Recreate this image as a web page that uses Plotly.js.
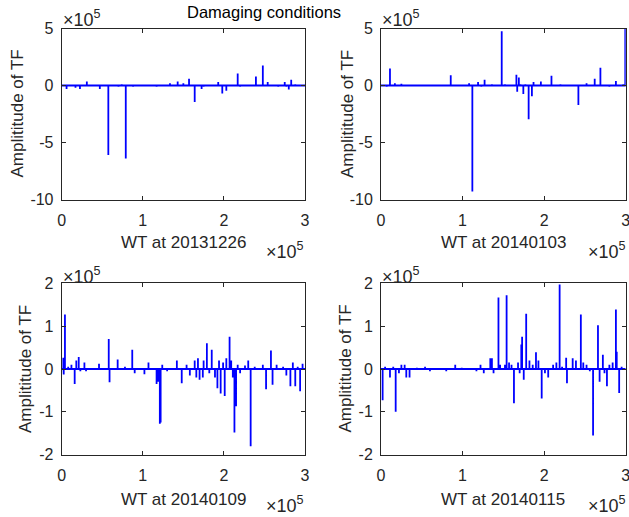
<!DOCTYPE html>
<html>
<head>
<meta charset="utf-8">
<script src="https://cdn.plot.ly/plotly-3.0.1.min.js"></script>
<style>html,body{margin:0;padding:0;background:#fff;}#chart{width:629px;height:517px;}</style>
</head>
<body>
<div id="chart"></div>
<script>
// ---- data (x in WT index, y in TF amplitude) ----
const xRange = [0, 300000];

const panelTitles = ["WT at 20131226", "WT at 20140103", "WT at 20140109", "WT at 20140115"];
const figureTitle = "Damaging conditions";
const yTitle = "Amplititude of TF";

const x1 = [6000,17000,22500,31000,40000,47000,57500,70000,74000,79000,88000,100000,110000,117000,125000,133500,143000,150000,157000,164000,172500,175000,193000,198000,203000,217000,220000,239500,248000,254000,267000,275000,277000,280000,283000,288000,295000];
const y1 = [-30000,-20000,-30000,35000,-5000,-30000,-610000,-10000,10000,-640000,-10000,5000,-5000,-10000,5000,20000,35000,20000,60000,-145000,-30000,-10000,30000,-70000,-45000,105000,-10000,80000,175000,30000,-10000,30000,-10000,-35000,50000,10000,5000];

const x2 = [7000,11000,17000,25000,35000,45000,60000,75000,85500,108000,112000,119000,123000,127000,136000,148000,152000,166000,167000,169000,171000,174500,177000,181000,185000,187000,196000,209000,220000,233000,242000,252000,262000,269000,280000,288000,297000,299500];
const y2 = [-10000,150000,20000,15000,5000,5000,5000,5000,90000,20000,-930000,30000,-10000,50000,10000,475000,10000,95000,-55000,70000,10000,-75000,10000,-295000,-95000,30000,35000,85000,10000,5000,-170000,20000,60000,155000,-10000,40000,10000,530000];

const x3 = [2000,2500,4000,8000,12000,16000,18000,21000,23000,28000,30000,46000,58000,59000,69000,78000,87000,90000,102000,107000,117000,119000,121000,122000,124000,130000,142000,148000,154000,158000,164000,166000,168000,170000,174000,175000,179000,182000,185000,189000,192000,194000,196000,199000,201000,203000,207000,209000,211000,213000,215000,217000,220000,226000,230000,233000,238000,248000,252000,258000,260000,265000,273000,277000,282000,285000,288000,291000,294000,297000];
const y3 = [26000,-13000,127000,5000,10000,-35000,20000,28000,-5000,15000,-5000,12000,70000,-31000,22000,5000,45000,-10000,-12000,15000,-35000,-30000,-128000,-125000,10000,-5000,20000,-33000,10000,-15000,20000,-20000,25000,-25000,-20000,20000,60000,-10000,45000,-20000,-45000,20000,-57000,15000,-63000,25000,75000,20000,-20000,-148000,-87000,10000,-10000,8000,20000,-180000,5000,10000,-47000,43000,-37000,10000,5000,-15000,-40000,15000,-40000,5000,-52000,12000];

const x4 = [2000,5000,11000,15000,18000,22000,25000,29000,31000,35000,44000,54000,60000,80000,91000,99000,117000,122000,126000,134000,136000,138000,144000,146000,152000,154000,157000,160000,163000,168000,170000,172000,173000,175000,178000,182000,186000,190000,193000,197000,201000,205000,211000,215000,219000,222000,227000,228000,235000,239000,245000,248000,252000,256000,260000,266000,268000,272000,274000,277000,280000,284000,288000,289000,292000,295000,299000];
const y4 = [-73000,5000,-20000,5000,-100000,-10000,10000,10000,-20000,-20000,3000,5000,-5000,-5000,10000,3000,-5000,10000,-10000,25000,25000,-10000,167000,10000,10000,172000,15000,10000,-80000,15000,-10000,57000,75000,-25000,129000,20000,10000,39000,20000,-69000,-10000,-20000,10000,15000,197000,5000,26000,-33000,25000,20000,127000,15000,10000,-5000,-155000,102000,-30000,33000,-10000,-40000,10000,15000,139000,40000,-56000,5000,2000];

const xTickVals = [0, 100000, 200000, 300000];
const xTickText = ["0", "1", "2", "3"];
const yTickValsTop = [-1000000, -500000, 0, 500000];
const yTickTextTop = ["-10", "-5", "0", "5"];
const yTickValsBot = [-200000, -100000, 0, 100000, 200000];
const yTickTextBot = ["-2", "-1", "0", "1", "2"];

// ---- build signal lines (each sample drawn as an excursion from the baseline) ----
function buildLine(xs, ys) {
  const X = [xRange[0]], Y = [0];
  for (let i = 0; i < xs.length; i++) {
    X.push(xs[i], xs[i], xs[i]);
    Y.push(0, ys[i], 0);
  }
  X.push(xRange[1]); Y.push(0);
  return {X, Y};
}

const W = 629, H = 517;
const px = v => v / W;
const py = v => 1 - v / H;

const dataSets = [[x1, y1], [x2, y2], [x3, y3], [x4, y4]];
const traces = dataSets.map((d, i) => {
  const l = buildLine(d[0], d[1]);
  return {
    x: l.X, y: l.Y, type: 'scatter', mode: 'lines',
    line: {color: '#0000ff', width: 1.8},
    xaxis: i === 0 ? 'x' : 'x' + (i + 1),
    yaxis: i === 0 ? 'y' : 'y' + (i + 1),
    hoverinfo: 'skip', showlegend: false
  };
});

const axCol = '#262626';
const fontFam = '"Liberation Sans", Arial, Helvetica, sans-serif';
function xAx(dom, anchor) {
  return {
    domain: dom, anchor: anchor, range: xRange, tickmode: 'array',
    tickvals: xTickVals, ticktext: xTickText,
    ticks: 'inside', ticklen: 4, tickcolor: axCol, tickwidth: 1,
    showline: true, linecolor: axCol, linewidth: 1, mirror: 'ticks',
    showgrid: false, zeroline: false, ticklabelstandoff: 6,
    ticklabeloverflow: 'allow',
    tickfont: {size: 16, color: axCol, family: fontFam}, fixedrange: true
  };
}
function yAx(dom, anchor, vals, text, rng) {
  return {
    domain: dom, anchor: anchor, range: rng, tickmode: 'array',
    tickvals: vals, ticktext: text,
    ticks: 'inside', ticklen: 4, tickcolor: axCol, tickwidth: 1,
    showline: true, linecolor: axCol, linewidth: 1, mirror: 'ticks',
    showgrid: false, zeroline: false, ticklabelstandoff: 4,
    ticklabeloverflow: 'allow',
    tickfont: {size: 16, color: axCol, family: fontFam}, fixedrange: true
  };
}

const xdL = [px(61.7), px(305)], xdR = [px(381), px(625.7)];
const ydT = [py(199.5), py(28.5)], ydB = [py(454.7), py(283.3)];

const annFont = {size: 17, color: axCol, family: fontFam};
const expFont = {size: 18, color: axCol, family: fontFam};
const ann = [];
// figure title
ann.push({text: figureTitle, x: px(264), y: py(12), xref: 'paper', yref: 'paper', showarrow: false, xanchor: 'center', yanchor: 'middle', font: {size: 16.5, color: '#000', family: fontFam}});
// x titles
[[183.4, 242, 0], [503.4, 242, 1], [183.4, 499, 2], [503.4, 499, 3]].forEach(a => {
  ann.push({text: panelTitles[a[2]], x: px(a[0]), y: py(a[1]), xref: 'paper', yref: 'paper', showarrow: false, xanchor: 'center', yanchor: 'middle', font: annFont});
});
// y titles
[[16.5, 114], [347, 114], [25, 369], [344.5, 369]].forEach(a => {
  ann.push({text: yTitle, x: px(a[0]), y: py(a[1]), xref: 'paper', yref: 'paper', showarrow: false, xanchor: 'center', yanchor: 'middle', textangle: -90, font: annFont});
});
// y exponents
[[61, 18], [380, 18], [61, 275], [380, 275]].forEach(a => {
  ann.push({text: '\u00d710<sup>5</sup>', x: px(a[0]), y: py(a[1]), xref: 'paper', yref: 'paper', showarrow: false, xanchor: 'left', yanchor: 'middle', font: expFont});
});
// x exponents
[[306, 250], [628, 250], [306, 504], [628, 504]].forEach(a => {
  ann.push({text: '\u00d710<sup>5</sup>', x: px(a[0]), y: py(a[1]), xref: 'paper', yref: 'paper', showarrow: false, xanchor: 'right', yanchor: 'middle', font: expFont});
});

const layout = {
  width: W, height: H,
  margin: {l: 0, r: 0, t: 0, b: 0},
  paper_bgcolor: '#ffffff', plot_bgcolor: '#ffffff',
  font: {family: fontFam, color: axCol},
  showlegend: false,
  xaxis: xAx(xdL, 'y'), yaxis: yAx(ydT, 'x', yTickValsTop, yTickTextTop, [-1000000, 500000]),
  xaxis2: xAx(xdR, 'y2'), yaxis2: yAx(ydT, 'x2', yTickValsTop, yTickTextTop, [-1000000, 500000]),
  xaxis3: xAx(xdL, 'y3'), yaxis3: yAx(ydB, 'x3', yTickValsBot, yTickTextBot, [-200000, 200000]),
  xaxis4: xAx(xdR, 'y4'), yaxis4: yAx(ydB, 'x4', yTickValsBot, yTickTextBot, [-200000, 200000]),
  annotations: ann
};

Plotly.newPlot('chart', traces, layout, {staticPlot: true, displayModeBar: false});
</script>
</body>
</html>
